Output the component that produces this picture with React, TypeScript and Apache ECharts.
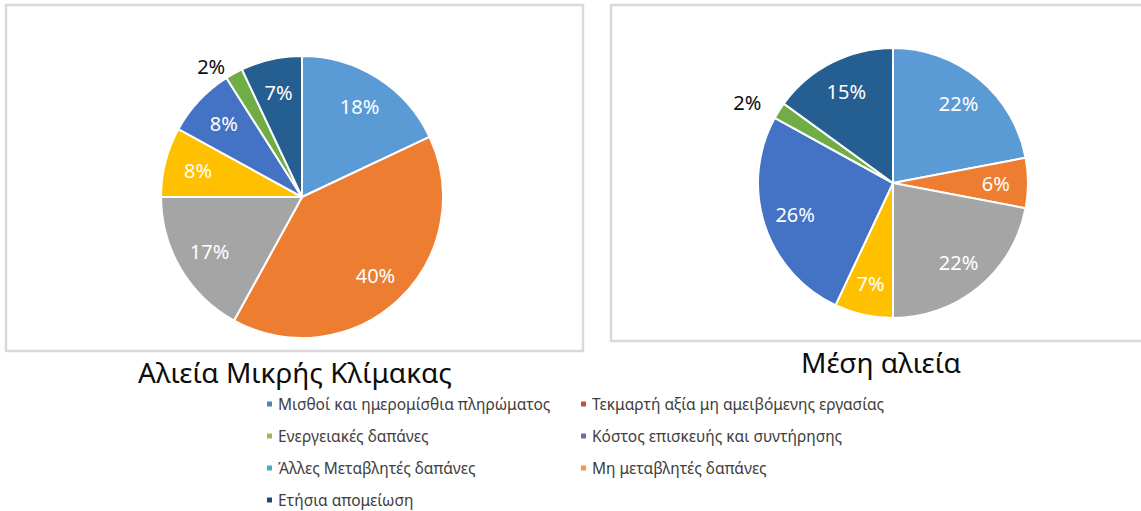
import React, { useEffect, useRef } from "react";
import * as echarts from "echarts";

const categories = [
  "Μισθοί και ημερομίσθια πληρώματος",
  "Τεκμαρτή αξία μη αμειβόμενης εργασίας",
  "Ενεργειακές δαπάνες",
  "Κόστος επισκευής και συντήρησης",
  "Άλλες Μεταβλητές δαπάνες",
  "Μη μεταβλητές δαπάνες",
  "Ετήσια απομείωση",
];
const smallScaleValues = [18, 40, 17, 8, 8, 2, 7];
const mediumValues = [22, 6, 22, 7, 26, 2, 15];
const chartTitles = ["Αλιεία Μικρής Κλίμακας", "Μέση αλιεία"];
const sliceColors = ["#5B9BD5", "#ED7D31", "#A5A5A5", "#FFC000", "#4472C4", "#70AD47", "#255E91"];
const legendColors = ["#4F81BD", "#C0504D", "#9BBB59", "#8064A2", "#4BACC6", "#F79646", "#1F497D"];

const FONT = "'Noto Sans', 'Open Sans', sans-serif";

function pieSeries(values: number[], center: number[], r: number, outsideLen: number) {
  const base = {
    type: "pie",
    center,
    startAngle: 90,
    clockwise: true,
    avoidLabelOverlap: false,
    silent: true,
  };
  return [
    {
      ...base,
      radius: [0, r],
      data: values.map((v, i) => ({ name: categories[i], value: v, itemStyle: { color: sliceColors[i] } })),
      label: { show: false },
      labelLine: { show: false },
      itemStyle: { borderColor: "#ffffff", borderWidth: 2 },
    },
    {
      ...base,
      radius: [r * 0.48, r],
      data: values.map((v, i) => ({
        name: categories[i],
        value: v,
        itemStyle: { color: "rgba(0,0,0,0)" },
        label: v <= 2 ? { position: "outside", color: "#0D0D0D" } : undefined,
      })),
      label: {
        show: true,
        position: "inside",
        formatter: "{c}%",
        color: "#ffffff",
        fontSize: 20,
        fontFamily: FONT,
      },
      labelLine: { show: false, length: outsideLen, length2: 0 },
      itemStyle: { borderWidth: 0 },
    },
  ];
}

export default function App() {
  const ref = useRef<HTMLDivElement>(null);
  useEffect(() => {
    if (!ref.current) return;
    const chart = echarts.init(ref.current, undefined, { renderer: "svg" });
    const col1 = [0, 2, 4, 6];
    const col2 = [1, 3, 5];
    const legendBase = {
      orient: "vertical",
      top: 396,
      height: 115,
      padding: 0,
      itemGap: 16,
      itemWidth: 7,
      itemHeight: 7,
      icon: "rect",
      selectedMode: false,
      textStyle: { fontSize: 15.5, color: "#404040", fontFamily: FONT },
    };
    chart.setOption({
      animation: false,
      backgroundColor: "#ffffff",
      legend: [
        {
          ...legendBase,
          left: 265,
          data: col1.map((i) => ({ name: categories[i], itemStyle: { color: legendColors[i] } })),
        },
        {
          ...legendBase,
          left: 579,
          data: col2.map((i) => ({ name: categories[i], itemStyle: { color: legendColors[i] } })),
        },
      ],
      graphic: [
        {
          type: "rect",
          shape: { x: 6, y: 5, width: 577, height: 346 },
          style: { fill: "none", stroke: "#D9D9D9", lineWidth: 2.5 },
          silent: true,
        },
        {
          type: "rect",
          shape: { x: 611, y: 5, width: 540, height: 336 },
          style: { fill: "none", stroke: "#D9D9D9", lineWidth: 2.5 },
          silent: true,
        },
        {
          type: "text",
          x: 295,
          y: 372,
          style: {
            text: chartTitles[0],
            fontSize: 28,
            fontFamily: FONT,
            fill: "#0D0D0D",
            align: "center",
            verticalAlign: "middle",
          },
        },
        {
          type: "text",
          x: 881,
          y: 362,
          style: {
            text: chartTitles[1],
            fontSize: 28,
            fontFamily: FONT,
            fill: "#0D0D0D",
            align: "center",
            verticalAlign: "middle",
          },
        },
      ],
      series: [
        ...pieSeries(smallScaleValues, [302, 197], 141, 8),
        ...pieSeries(mediumValues, [893, 183], 135, 15),
      ],
    });
    return () => chart.dispose();
  }, []);
  return (
    <div
      ref={ref}
      style={{ position: "absolute", left: 0, top: 0, width: 1141, height: 511, background: "#fff" }}
    />
  );
}
